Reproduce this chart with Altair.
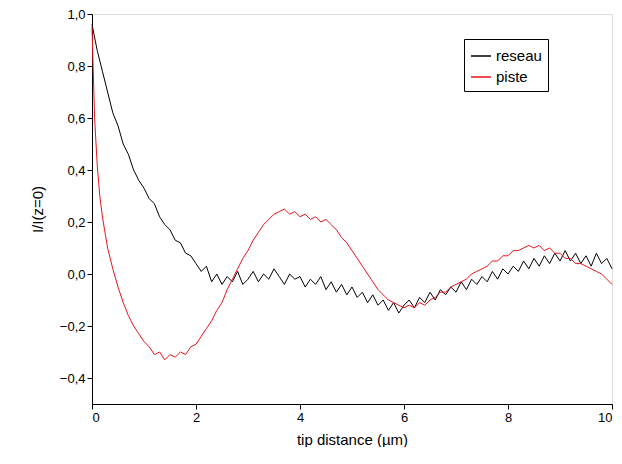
import altair as alt
import pandas as pd

reseau_x = [round(i * 0.1, 1) for i in range(101)]
reseau_y = [0.96, 0.86, 0.78, 0.70, 0.62, 0.57, 0.50, 0.46, 0.40, 0.36,
            0.33, 0.29, 0.27, 0.22, 0.19, 0.17, 0.13, 0.12, 0.08, 0.07,
            0.04, 0.01, 0.03, -0.03, 0.00, -0.04, -0.01, -0.03, 0.01, -0.04,
            -0.02, 0.01, -0.03, 0.00, -0.02, 0.02, -0.01, -0.04, 0.00, -0.02,
            -0.01, -0.05, -0.02, -0.04, -0.01, -0.06, -0.03, -0.07, -0.04, -0.08,
            -0.05, -0.09, -0.07, -0.11, -0.08, -0.12, -0.10, -0.14, -0.11, -0.15,
            -0.12, -0.10, -0.13, -0.09, -0.11, -0.07, -0.10, -0.06, -0.08, -0.05,
            -0.07, -0.03, -0.06, -0.02, -0.04, -0.01, -0.03, 0.01, -0.02, 0.02,
            0.00, 0.03, 0.01, 0.05, 0.02, 0.06, 0.03, 0.07, 0.04, 0.08,
            0.05, 0.09, 0.05, 0.08, 0.04, 0.07, 0.03, 0.08, 0.04, 0.06, 0.02]

piste_x = [0.0, 0.05, 0.1, 0.15] + [round(i * 0.1, 1) for i in range(2, 101)]
piste_y = [0.95, 0.60, 0.42, 0.30, 0.22, 0.10, 0.02, -0.05, -0.11, -0.16,
           -0.20, -0.23, -0.26, -0.28, -0.31, -0.30, -0.33, -0.31, -0.32, -0.30,
           -0.31, -0.28, -0.27, -0.24, -0.21, -0.18, -0.14, -0.11, -0.06, -0.02,
           0.02, 0.06, 0.09, 0.13, 0.16, 0.19, 0.21, 0.23, 0.24, 0.25,
           0.23, 0.24, 0.22, 0.23, 0.21, 0.22, 0.20, 0.21, 0.19, 0.17,
           0.14, 0.12, 0.09, 0.06, 0.03, 0.00, -0.03, -0.06, -0.08, -0.10,
           -0.11, -0.12, -0.13, -0.12, -0.13, -0.11, -0.12, -0.10, -0.09, -0.07,
           -0.07, -0.05, -0.04, -0.03, -0.02, 0.00, 0.01, 0.02, 0.03, 0.05,
           0.05, 0.07, 0.07, 0.09, 0.09, 0.10, 0.11, 0.10, 0.11, 0.09,
           0.10, 0.08, 0.08, 0.06, 0.06, 0.04, 0.04, 0.03, 0.02, 0.01,
           0.00, -0.02, -0.04]

df = pd.concat([
    pd.DataFrame({"x": reseau_x, "y": reseau_y, "s": "reseau"}),
    pd.DataFrame({"x": piste_x, "y": piste_y, "s": "piste"}),
])

comma = "replace(format(datum.value, '.1f'), '.', ',')"
axis_style = dict(grid=False, domainColor="black", tickColor="black", labelColor="black",
                  labelFontSize=13, titleFontSize=15, titleFontWeight="normal",
                  titleColor="black")

chart = alt.Chart(df).mark_line(strokeWidth=1).encode(
    x=alt.X("x:Q", title="tip distance (µm)",
            scale=alt.Scale(domain=[0, 10], nice=False),
            axis=alt.Axis(values=[0, 2, 4, 6, 8, 10], titlePadding=8, **axis_style)),
    y=alt.Y("y:Q", title="I/I(z=0)",
            scale=alt.Scale(domain=[-0.5, 1.0], nice=False),
            axis=alt.Axis(values=[-0.4, -0.2, 0, 0.2, 0.4, 0.6, 0.8, 1.0], labelExpr=comma,
                          titlePadding=14, **axis_style)),
    color=alt.Color("s:N", scale=alt.Scale(domain=["reseau", "piste"], range=["black", "#e8141c"]),
                    legend=alt.Legend(title=None, orient="none", legendX=372, legendY=25,
                                      symbolType="stroke", symbolSize=400, strokeColor="black",
                                      padding=6, labelFontSize=15, labelColor="black",
                                      rowPadding=2)),
    detail="s:N",
).properties(
    width=520, height=390, padding={"left": 22, "top": 0, "right": 0, "bottom": 0},
).configure_view(stroke="black").configure(font="Liberation Sans")

chart.save("out.html", embed_options={"renderer": "svg", "actions": False})
